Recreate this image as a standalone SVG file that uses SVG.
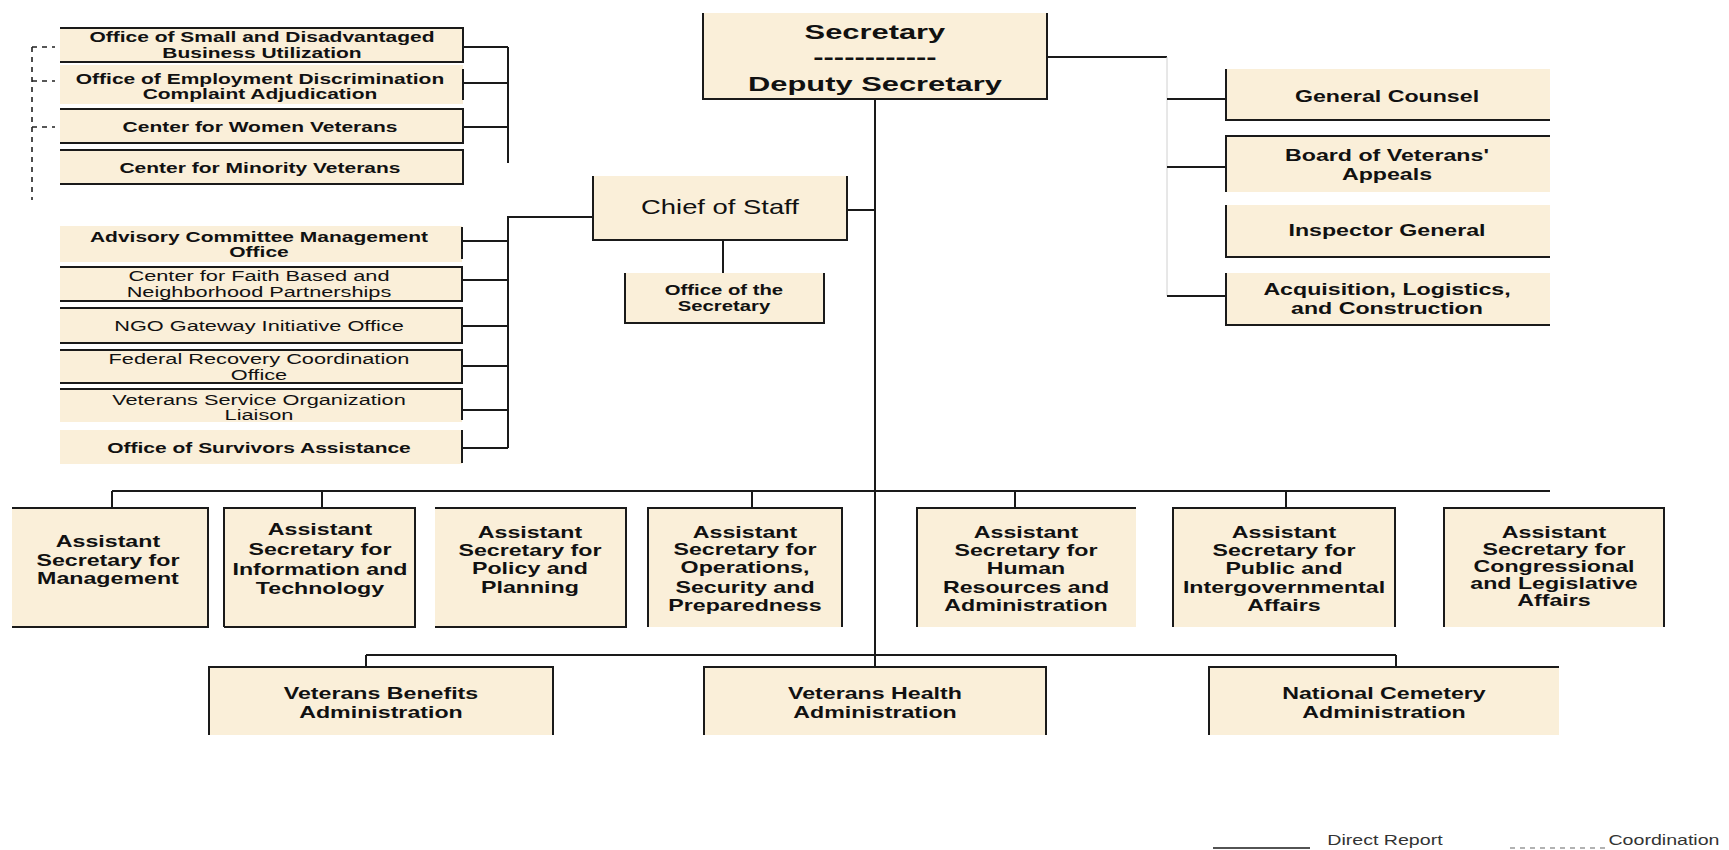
<svg xmlns="http://www.w3.org/2000/svg" width="1729" height="850" viewBox="0 0 1729 850">
<style>
.fill{fill:#faefd9;stroke:none}
.bd{stroke:#1a1a1a;stroke-width:2;fill:none}
.cn{stroke:#1a1a1a;stroke-width:2;fill:none}
.dash{stroke:#222;stroke-width:1.6;fill:none;stroke-dasharray:5 5}
.faint{stroke:#d0d0d0;stroke-width:1;fill:none}
text{font-family:"Liberation Sans",Arial,sans-serif;fill:#111;text-anchor:middle;transform-box:fill-box;transform-origin:center;transform:scaleX(1.45)}
.s15{font-size:15px;font-weight:bold;transform:scaleX(1.4)}
.r15{font-size:15px;font-weight:normal}
.s16{font-size:16px;font-weight:bold}
.s14{font-size:14px;font-weight:bold}
.big{font-size:21px;font-weight:bold;transform:scaleX(1.47)}
.cos{font-size:20px;font-weight:normal;transform:scaleX(1.37)}
.leg{font-size:14px;font-weight:normal;fill:#333;transform:scaleX(1.4)}
</style>
<rect width="1729" height="850" fill="#ffffff"/>

<g id="connectors">
  <path class="cn" d="M508 47V163M463 47H508M463 83H508M463 127H508"/>
  <path class="dash" d="M32 47V200M32 47H55M32 81H55M32 127H55"/>
  <path class="cn" d="M1047 57H1167"/>
  <path class="faint" d="M1167 57V296"/>
  <path class="cn" d="M1167 99H1226M1167 167H1226M1167 296H1226"/>
  <path class="cn" d="M875 99V667"/>
  <path class="cn" d="M847 210H875M593 217H508V448M723 240V273"/>
  <path class="cn" d="M462 241H508M462 280H508M462 326H508M462 366H508M462 410H508M462 448H508"/>
  <path class="cn" d="M112 491H1550M112 491V508M322 491V508M752 491V508M1015 491V508M1286 491V508"/>
  <path class="cn" d="M366 655H1396M366 655V667M1396 655V667"/>
  <path class="cn" d="M1213 848H1310" style="stroke-width:1.5"/>
  <path class="dash" d="M1510 848H1608" style="stroke:#999;stroke-width:1.5"/>
</g>

<g id="n-osdbu">
  <rect class="fill" x="60" y="28" width="403" height="34"/>
  <path class="bd" d="M60 28H463V62H60"/>
  <text class="s15"><tspan x="262" y="42">Office of Small and Disadvantaged</tspan><tspan x="262" y="58">Business Utilization</tspan></text>
</g>
<g id="n-oedca">
  <rect class="fill" x="60" y="65" width="403" height="39"/>
  <path class="bd" d="M463 69V100"/>
  <text class="s15"><tspan x="260" y="84">Office of Employment Discrimination</tspan><tspan x="260" y="99">Complaint Adjudication</tspan></text>
</g>
<g id="n-cwv">
  <rect class="fill" x="60" y="109" width="403" height="34"/>
  <path class="bd" d="M60 109H463V143H60"/>
  <text class="s15" x="260" y="132">Center for Women Veterans</text>
</g>
<g id="n-cmv">
  <rect class="fill" x="60" y="150" width="403" height="34"/>
  <path class="bd" d="M60 150H463V184H60"/>
  <text class="s15" x="260" y="173">Center for Minority Veterans</text>
</g>

<g id="n-secretary">
  <rect class="fill" x="703" y="13" width="344" height="86"/>
  <path class="bd" d="M703 13V99H1047V13"/>
  <text class="big" x="875" y="39">Secretary</text>
  <text class="big" x="875" y="64">------------</text>
  <text class="big" x="875" y="91">Deputy Secretary</text>
</g>

<g id="n-gc">
  <rect class="fill" x="1226" y="69" width="324" height="51"/>
  <path class="bd" d="M1226 69V120H1550"/>
  <text class="s16" x="1387" y="102">General Counsel</text>
</g>
<g id="n-bva">
  <rect class="fill" x="1226" y="136" width="324" height="56"/>
  <path class="bd" d="M1226 192V136H1550"/>
  <text class="s16"><tspan x="1387" y="161">Board of Veterans'</tspan><tspan x="1387" y="180">Appeals</tspan></text>
</g>
<g id="n-ig">
  <rect class="fill" x="1226" y="205" width="324" height="52"/>
  <path class="bd" d="M1226 205V257H1550"/>
  <text class="s16" x="1387" y="236">Inspector General</text>
</g>
<g id="n-alc">
  <rect class="fill" x="1226" y="273" width="324" height="52"/>
  <path class="bd" d="M1226 273V325H1550"/>
  <text class="s16"><tspan x="1387" y="295">Acquisition, Logistics,</tspan><tspan x="1387" y="314">and Construction</tspan></text>
</g>

<g id="n-cos">
  <rect class="fill" x="593" y="176" width="254" height="64"/>
  <path class="bd" d="M593 176V240H847V176"/>
  <text class="cos" x="720" y="214">Chief of Staff</text>
</g>
<g id="n-os">
  <rect class="fill" x="625" y="273" width="199" height="50"/>
  <path class="bd" d="M625 273V323H824V273"/>
  <text class="s14"><tspan x="724" y="295">Office of the</tspan><tspan x="724" y="311">Secretary</tspan></text>
</g>

<g id="n-acmo">
  <rect class="fill" x="60" y="226" width="402" height="36"/>
  <path class="bd" d="M462 227V259"/>
  <text class="s15"><tspan x="259" y="242">Advisory Committee Management</tspan><tspan x="259" y="257">Office</tspan></text>
</g>
<g id="n-cfbnp">
  <rect class="fill" x="60" y="267" width="402" height="34"/>
  <path class="bd" d="M60 267H462V301H60"/>
  <text class="r15"><tspan x="259" y="281">Center for Faith Based and</tspan><tspan x="259" y="297">Neighborhood Partnerships</tspan></text>
</g>
<g id="n-ngo">
  <rect class="fill" x="60" y="308" width="402" height="35"/>
  <path class="bd" d="M60 308H462V343H60"/>
  <text class="r15" x="259" y="331">NGO Gateway Initiative Office</text>
</g>
<g id="n-frco">
  <rect class="fill" x="60" y="350" width="402" height="33"/>
  <path class="bd" d="M60 350H462V383H60"/>
  <text class="r15"><tspan x="259" y="364">Federal Recovery Coordination</tspan><tspan x="259" y="380">Office</tspan></text>
</g>
<g id="n-vso">
  <rect class="fill" x="60" y="389" width="402" height="33"/>
  <path class="bd" d="M60 389H462V420"/>
  <text class="r15"><tspan x="259" y="405">Veterans Service Organization</tspan><tspan x="259" y="420">Liaison</tspan></text>
</g>
<g id="n-osa">
  <rect class="fill" x="60" y="430" width="402" height="34"/>
  <path class="bd" d="M462 430V463"/>
  <text class="s15" x="259" y="453">Office of Survivors Assistance</text>
</g>

<g id="n-asm">
  <rect class="fill" x="12" y="508" width="196" height="119"/>
  <path class="bd" d="M12 508H208V627H12"/>
  <text class="s16"><tspan x="108" y="547">Assistant</tspan><tspan x="108" y="566">Secretary for</tspan><tspan x="108" y="584">Management</tspan></text>
</g>
<g id="n-asit">
  <rect class="fill" x="224" y="508" width="191" height="119"/>
  <path class="bd" d="M224 627V508H415V627H224"/>
  <text class="s16"><tspan x="320" y="535">Assistant</tspan><tspan x="320" y="555">Secretary for</tspan><tspan x="320" y="575">Information and</tspan><tspan x="320" y="594">Technology</tspan></text>
</g>
<g id="n-aspp">
  <rect class="fill" x="435" y="508" width="191" height="119"/>
  <path class="bd" d="M435 508H626V627H435"/>
  <text class="s16"><tspan x="530" y="538">Assistant</tspan><tspan x="530" y="556">Secretary for</tspan><tspan x="530" y="574">Policy and</tspan><tspan x="530" y="593">Planning</tspan></text>
</g>
<g id="n-asosp">
  <rect class="fill" x="648" y="508" width="194" height="119"/>
  <path class="bd" d="M648 627V508H842V627"/>
  <text class="s16"><tspan x="745" y="538">Assistant</tspan><tspan x="745" y="555">Secretary for</tspan><tspan x="745" y="573">Operations,</tspan><tspan x="745" y="593">Security and</tspan><tspan x="745" y="611">Preparedness</tspan></text>
</g>
<g id="n-ashra">
  <rect class="fill" x="917" y="508" width="219" height="119"/>
  <path class="bd" d="M917 627V508H1136"/>
  <text class="s16"><tspan x="1026" y="538">Assistant</tspan><tspan x="1026" y="556">Secretary for</tspan><tspan x="1026" y="574">Human</tspan><tspan x="1026" y="593">Resources and</tspan><tspan x="1026" y="611">Administration</tspan></text>
</g>
<g id="n-aspia">
  <rect class="fill" x="1173" y="508" width="222" height="119"/>
  <path class="bd" d="M1173 627V508H1395V627"/>
  <text class="s16"><tspan x="1284" y="538">Assistant</tspan><tspan x="1284" y="556">Secretary for</tspan><tspan x="1284" y="574">Public and</tspan><tspan x="1284" y="593">Intergovernmental</tspan><tspan x="1284" y="611">Affairs</tspan></text>
</g>
<g id="n-ascla">
  <rect class="fill" x="1444" y="508" width="220" height="119"/>
  <path class="bd" d="M1444 627V508H1664V627"/>
  <text class="s16"><tspan x="1554" y="538">Assistant</tspan><tspan x="1554" y="555">Secretary for</tspan><tspan x="1554" y="572">Congressional</tspan><tspan x="1554" y="589">and Legislative</tspan><tspan x="1554" y="606">Affairs</tspan></text>
</g>

<g id="n-vba">
  <rect class="fill" x="209" y="667" width="344" height="68"/>
  <path class="bd" d="M209 735V667H553V735"/>
  <text class="s16"><tspan x="381" y="699">Veterans Benefits</tspan><tspan x="381" y="718">Administration</tspan></text>
</g>
<g id="n-vha">
  <rect class="fill" x="704" y="667" width="342" height="68"/>
  <path class="bd" d="M704 735V667H1046V735"/>
  <text class="s16"><tspan x="875" y="699">Veterans Health</tspan><tspan x="875" y="718">Administration</tspan></text>
</g>
<g id="n-nca">
  <rect class="fill" x="1209" y="667" width="350" height="68"/>
  <path class="bd" d="M1209 735V667H1559"/>
  <text class="s16"><tspan x="1384" y="699">National Cemetery</tspan><tspan x="1384" y="718">Administration</tspan></text>
</g>

<g id="legend">
  <text class="leg" x="1385" y="845">Direct Report</text>
  <text class="leg" x="1664" y="845">Coordination</text>
</g>
</svg>
